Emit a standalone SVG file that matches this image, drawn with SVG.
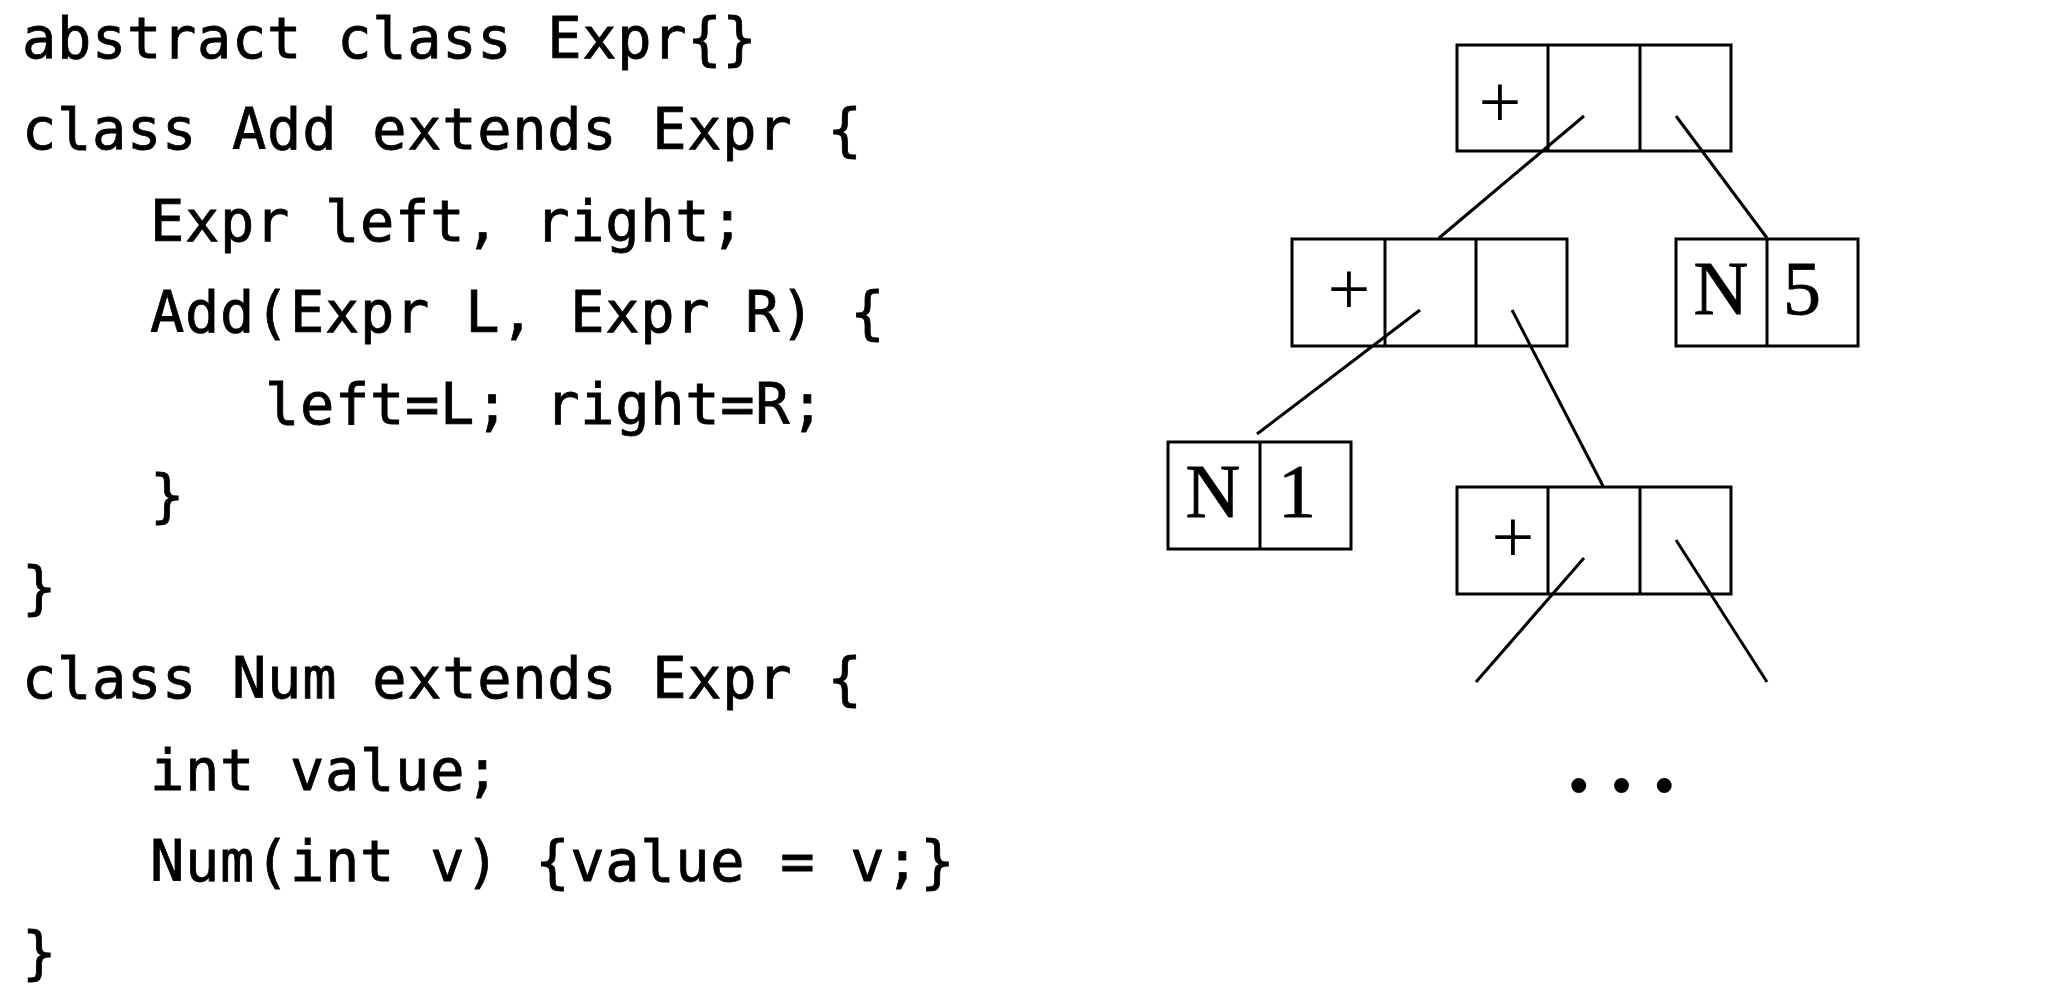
<svg xmlns="http://www.w3.org/2000/svg" width="2068" height="1008" viewBox="0 0 2068 1008">
<style>
.code{font-family:"DejaVu Sans Mono","Liberation Mono",monospace;font-size:57px;letter-spacing:0.7px;fill:#000;stroke:#000;stroke-width:0.8px}
.cell{fill:none;stroke:#000;stroke-width:3}
.div{stroke:#000;stroke-width:3}
.lbl{font-family:"Liberation Serif","Times New Roman",serif;font-size:76px;fill:#000;text-anchor:middle}
.val{stroke:#000;stroke-width:0.8px}
.edge{stroke:#000;stroke-width:3;fill:none}
</style>
<rect width="2068" height="1008" fill="#fff"/>
<g id="code">
<text class="code" x="22" y="58" xml:space="preserve">abstract class Expr{}</text>
<text class="code" x="22" y="149" xml:space="preserve">class Add extends Expr {</text>
<text class="code" x="150" y="241" xml:space="preserve">Expr left, right;</text>
<text class="code" x="150" y="332" xml:space="preserve">Add(Expr L, Expr R) {</text>
<text class="code" x="265" y="424" xml:space="preserve">left=L; right=R;</text>
<text class="code" x="150" y="515" xml:space="preserve">}</text>
<text class="code" x="22" y="607" xml:space="preserve">}</text>
<text class="code" x="22" y="698" xml:space="preserve">class Num extends Expr {</text>
<text class="code" x="150" y="790" xml:space="preserve">int value;</text>
<text class="code" x="150" y="881" xml:space="preserve">Num(int v) {value = v;}</text>
<text class="code" x="22" y="972" xml:space="preserve">}</text>
</g>
<g id="connectors">
<line class="edge" x1="1584" y1="116" x2="1439" y2="238"/>
<line class="edge" x1="1676" y1="116" x2="1767" y2="238"/>
<line class="edge" x1="1420" y1="310" x2="1257" y2="434"/>
<line class="edge" x1="1512" y1="310" x2="1603" y2="486"/>
<line class="edge" x1="1584" y1="558" x2="1476" y2="682"/>
<line class="edge" x1="1676" y1="540" x2="1767" y2="682"/>
</g>
<g id="add-root">
<rect class="cell" x="1457" y="45" width="274" height="106"/>
<line class="div" x1="1548" y1="45" x2="1548" y2="151"/>
<line class="div" x1="1640" y1="45" x2="1640" y2="151"/>
<text class="lbl" x="1500" y="127">+</text>
</g>
<g id="add-left">
<rect class="cell" x="1292" y="239" width="275" height="107"/>
<line class="div" x1="1385" y1="239" x2="1385" y2="346"/>
<line class="div" x1="1476" y1="239" x2="1476" y2="346"/>
<text class="lbl" x="1349" y="314">+</text>
</g>
<g id="num5">
<rect class="cell" x="1676" y="239" width="182" height="107"/>
<line class="div" x1="1767" y1="239" x2="1767" y2="346"/>
<text class="lbl val" x="1721" y="314">N</text>
<text class="lbl val" x="1802" y="314">5</text>
</g>
<g id="num1">
<rect class="cell" x="1168" y="442" width="183" height="107"/>
<line class="div" x1="1260" y1="442" x2="1260" y2="549"/>
<text class="lbl val" x="1213" y="517">N</text>
<text class="lbl val" x="1297" y="517">1</text>
</g>
<g id="add-bottom">
<rect class="cell" x="1457" y="487" width="274" height="107"/>
<line class="div" x1="1548" y1="487" x2="1548" y2="594"/>
<line class="div" x1="1640" y1="487" x2="1640" y2="594"/>
<text class="lbl" x="1513" y="562">+</text>
</g>
<g id="ellipsis">
<text x="1563" y="791" style="font-family:'Liberation Serif','Times New Roman',serif;font-size:126px;letter-spacing:11.3px;fill:#000">...</text>
</g>
</svg>
